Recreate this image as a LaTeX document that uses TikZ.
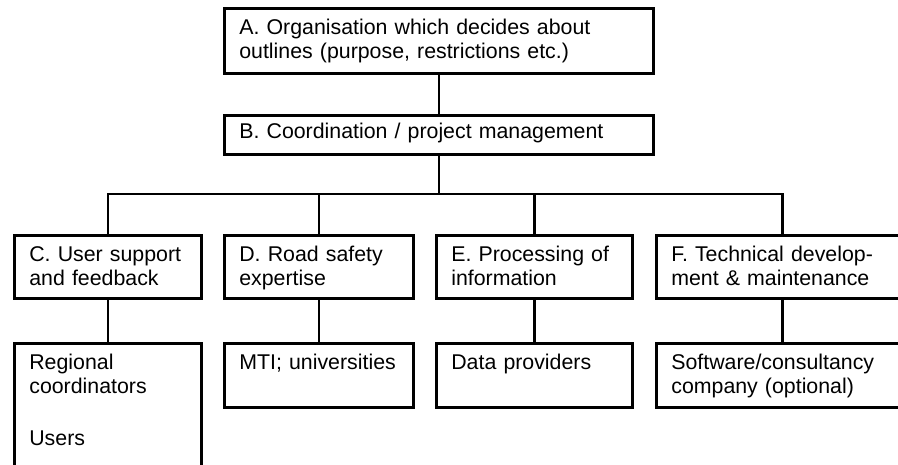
\documentclass[tikz,border=0pt]{standalone}
\usepackage{fontspec}
\setmainfont{Liberation Sans}
\usetikzlibrary{positioning,calc}
\newdimen\pxu \pxu=0.75pt
\tikzstyle{orgbox} = [rectangle,draw=black,line width=2pt,anchor=north west,align=left,inner xsep=15\pxu,inner ysep=10\pxu,text height=16\pxu,text depth=27\pxu,font=\fontsize{16}{18.4}\selectfont]
\tikzstyle{link} = [draw=black,line width=2pt]

\begin{document}
\begin{tikzpicture}[x=0.75pt,y=-0.75pt]
        \useasboundingbox (0,0) rectangle (898,464);
        \clip (0,0) rectangle (898,464);
        % top of the organisation
        \node[orgbox,text width=399\pxu,text depth=29\pxu] (orga) at (223,7) {A. Organisation which decides about\\outlines (purpose, restrictions etc.)};
        \node[orgbox,text width=399\pxu,text height=13\pxu,text depth=6\pxu] (coord) at (223,114) {B. Coordination / project management};
        \path[link] (orga) edge (coord);
        % tasks
        \node[orgbox,text width=157\pxu] (support) at (13,234) {C. User support\\and feedback};
        \node[orgbox,text width=159\pxu] (expertise) at (223,234) {D. Road safety\\expertise};
        \node[orgbox,text width=166\pxu] (processing) at (435,234) {E. Processing of\\information};
        \node[orgbox,text width=222\pxu] (technical) at (655,234) {F. Technical develop-\\ment \& maintenance};
        \coordinate (bus) at (0,194);
        \draw[link] (coord.south) -- (coord.south |- bus);
        \draw[link] (support.north) |- (coord.south |- bus) -| (technical.north);
        \draw[link] (expertise.north |- bus) -- (expertise.north);
        \draw[link] (processing.north |- bus) -- (processing.north);
        % who carries them out
        \node[orgbox,text width=157\pxu,text depth=160\pxu] (regional) at (13,342) {Regional\\coordinators\\[27\pxu]Users};
        \node[orgbox,text width=159\pxu,text depth=28\pxu] (mti) at (223,342) {MTI; universities};
        \node[orgbox,text width=166\pxu,text depth=28\pxu] (providers) at (435,342) {Data providers};
        \node[orgbox,text width=222\pxu,text depth=28\pxu] (software) at (655,342) {Software/consultancy\\company (optional)};
        \path[link] (support) edge (regional)
        (expertise) edge (mti)
        (processing) edge (providers)
        (technical) edge (software);
    \end{tikzpicture}
\end{document}
